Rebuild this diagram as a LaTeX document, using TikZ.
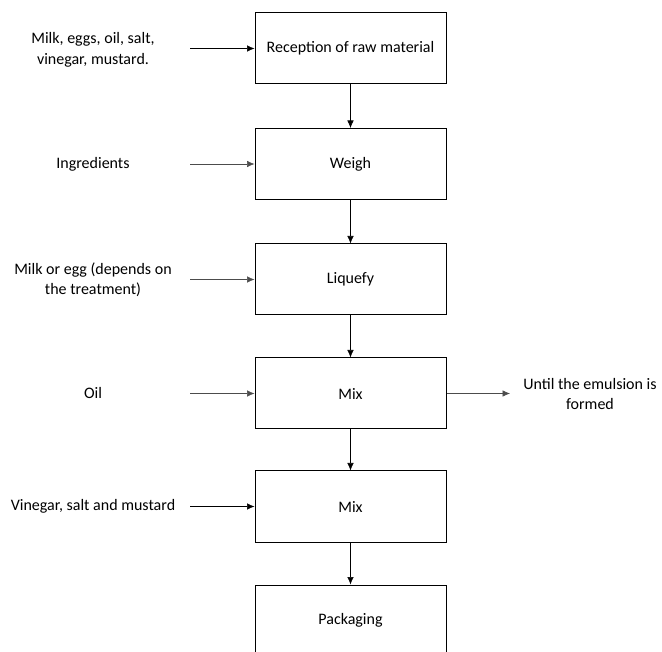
\documentclass[tikz,border=0pt]{standalone}
\usepackage{fontspec}
\setmainfont{Carlito}
\usetikzlibrary{arrows.meta}

\begin{document}
\begin{tikzpicture}[x=1pt, y=-1pt,
    every node/.append style={font=\fontsize{16}{20.5}\selectfont},
    stepbox/.style={draw=black, line width=1pt, minimum width=191pt, minimum height=71pt},
    flow/.style={-{Latex[length=7.5pt, width=6.5pt]}, line width=0.6pt}]
 \useasboundingbox (0,0) rectangle (662,652);
 \clip (0,0) rectangle (662,652);
 \begin{scope}[every node/.append style={stepbox}]
    \node (recv) at (350.5, 48.5) {Reception of raw material};
    \node (weigh) at (350.5, 164) {Weigh};
    \node (liquefy) at (350.5, 279.5) {Liquefy};
    \node (mix1) at (350.5, 393.5) {Mix};
    \node (mix2) at (350.5, 506.5) {Mix};
    \node (pack) at (350.5, 620.5) {Packaging};
 \end{scope}

 \begin{scope}[every node/.append style={align=center}]
    \node (in1) at (93, 50) {Milk, eggs, oil, salt,\\vinegar, mustard.};
    \node (in2) at (93, 164) {Ingredients};
    \node (in3) at (93, 280) {Milk or egg (depends on\\the treatment)};
    \node (in4) at (93, 393.5) {Oil};
    \node (in5) at (93, 506.5) {Vinegar, salt and mustard};
    \node (out) at (590, 394) {Until the emulsion is\\formed};
 \end{scope}

 \coordinate (s1) at (190, 48.5);
 \coordinate (s2) at (190, 164);
 \coordinate (s3) at (190, 279.5);
 \coordinate (s4) at (190, 393.5);
 \coordinate (s5) at (190, 506.5);
 \coordinate (e4) at (510, 393.5);

 \begin{scope}[every path/.style={flow}]
    \draw (s1) -- (recv.west);
    \draw[draw=black!70] (s2) -- (weigh.west);
    \draw[draw=black!70] (s3) -- (liquefy.west);
    \draw[draw=black!70] (s4) -- (mix1.west);
    \draw (s5) -- (mix2.west);
    \draw[draw=black!70] (mix1.east) -- (e4);

    \draw (recv) -- (weigh);
    \draw (weigh) -- (liquefy);
    \draw (liquefy) -- (mix1);
    \draw (mix1) -- (mix2);
    \draw (mix2) -- (pack);
 \end{scope}
\end{tikzpicture}
\end{document}
